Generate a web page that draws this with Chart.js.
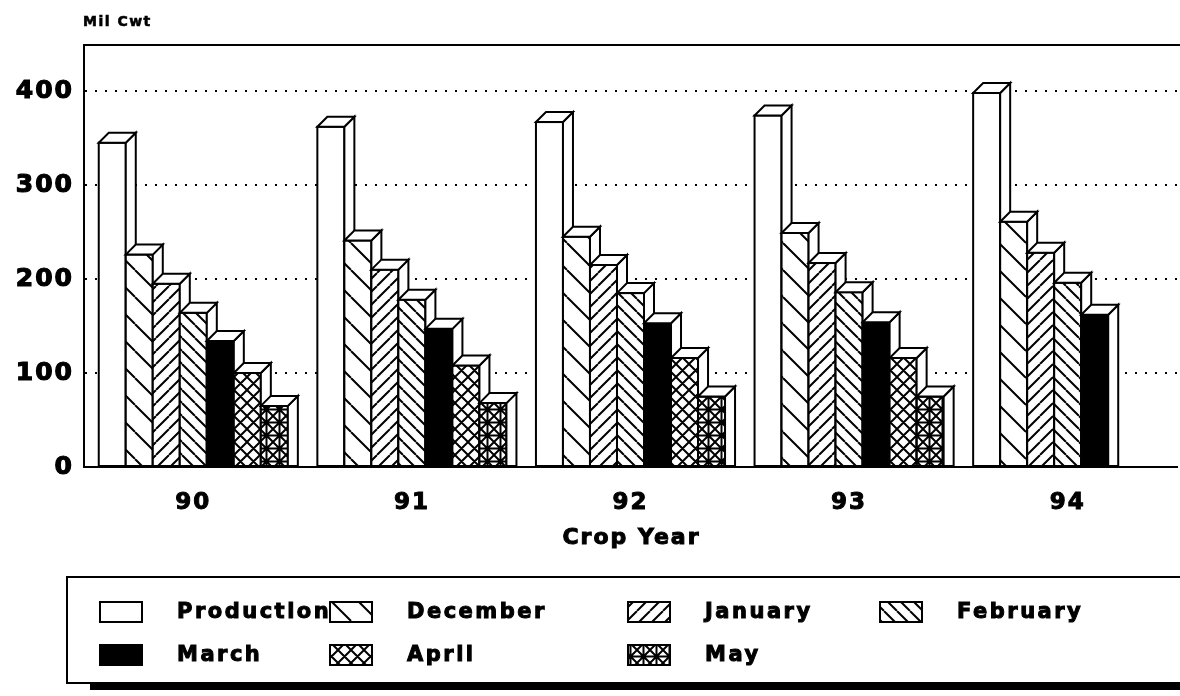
<!DOCTYPE html>
<html>
<head>
<meta charset="utf-8">
<script src="https://cdn.jsdelivr.net/npm/chart.js@4.4.1/dist/chart.umd.min.js"></script>
<style>
  html, body { margin: 0; padding: 0; background: #fff; }
  #wrap { width: 1180px; height: 696px; }
</style>
</head>
<body>
<div id="wrap"><canvas id="crop-chart"></canvas></div>
<script>
// data (million cwt)
const cropYears = ['90', '91', '92', '93', '94'];
const seriesNames = ['Production', 'December', 'January', 'February', 'March', 'April', 'May'];
const production = [345, 362, 367, 374, 398];
const december = [226, 241, 245, 249, 261];
const january = [195, 210, 215, 217, 228];
const february = [164, 178, 185, 186, 196];
const march = [134, 147, 153, 154, 162];
const april = [100, 108, 116, 116, null];
const may = [65, 68, 75, 75, null];
const yTicks = [0, 100, 200, 300, 400];
const yMax = 449;

const FONT = '"DejaVu Sans", "Liberation Sans", sans-serif';
const DEPTH = 10;

// hatch fills, drawn on small tiles
function makePattern(kind) {
    const s = kind === 'wide' ? 27 : 13;
    const c = document.createElement('canvas');
    c.width = s; c.height = s;
    const g = c.getContext('2d');
    g.fillStyle = kind === 'solid' ? '#000' : '#fff';
    g.fillRect(0, 0, s, s);
    if (kind === 'solid' || kind === 'plain') return g.createPattern(c, 'repeat');
    g.strokeStyle = '#000';
    g.lineWidth = 2;
    const back = () => { for (let k = -1; k <= 1; k++) { g.moveTo(k * s, 0); g.lineTo(k * s + s, s); } };
    const fwd = () => { for (let k = -1; k <= 1; k++) { g.moveTo(k * s, s); g.lineTo(k * s + s, 0); } };
    g.beginPath();
    if (kind === 'wide' || kind === 'back') back();
    if (kind === 'fwd') fwd();
    if (kind === 'cross' || kind === 'grid') { back(); fwd(); }
    if (kind === 'grid') {
        g.moveTo(s / 2, 0); g.lineTo(s / 2, s);
        g.moveTo(0, s / 2); g.lineTo(s, s / 2);
    }
    g.stroke();
    return g.createPattern(c, 'repeat');
}

const fills = [
    makePattern('plain'),
    makePattern('wide'),
    makePattern('fwd'),
    makePattern('back'),
    makePattern('solid'),
    makePattern('cross'),
    makePattern('grid')
];
const seriesValues = [production, december, january, february, march, april, may];

function heavyText(ctx, text, x, y, stroke) {
    ctx.lineWidth = stroke;
    ctx.strokeText(text, x, y);
    ctx.fillText(text, x, y);
}

// 3D boxes, redrawn left to right so each bar covers its neighbour's side
const bar3d = {
    id: 'bar3d',
    beforeDraw(chart) {
        chart.ctx.letterSpacing = '2px';
    },
    afterDatasetsDraw(chart) {
        const ctx = chart.ctx;
        ctx.save();
        ctx.lineWidth = 2;
        ctx.strokeStyle = '#000';
        chart.data.datasets.forEach((ds, i) => {
            const meta = chart.getDatasetMeta(i);
            meta.data.forEach((bar, j) => {
                if (ds.data[j] == null) return;
                const { x, y, base, width } = bar.getProps(['x', 'y', 'base', 'width'], true);
                const l = x - width / 2, r = x + width / 2;
                ctx.fillStyle = ds.backgroundColor;
                ctx.fillRect(l, y, width, base - y);
                ctx.strokeRect(l, y, width, base - y);
                ctx.fillStyle = '#fff';
                ctx.beginPath();
                ctx.moveTo(r, y); ctx.lineTo(r + DEPTH, y - DEPTH);
                ctx.lineTo(r + DEPTH, base); ctx.lineTo(r, base);
                ctx.closePath();
                ctx.fill(); ctx.stroke();
                ctx.beginPath();
                ctx.moveTo(l, y); ctx.lineTo(l + DEPTH, y - DEPTH);
                ctx.lineTo(r + DEPTH, y - DEPTH); ctx.lineTo(r, y);
                ctx.closePath();
                ctx.fill(); ctx.stroke();
            });
        });
        ctx.restore();
    },
    afterDraw(chart) {
        const ctx = chart.ctx;
        const area = chart.chartArea;
        ctx.save();
        ctx.setLineDash([]);
        // frame: top and left edges, solid
        ctx.strokeStyle = '#000';
        ctx.lineWidth = 2;
        ctx.beginPath();
        ctx.moveTo(area.left, area.bottom);
        ctx.lineTo(area.left, area.top);
        ctx.lineTo(chart.width, area.top);
        ctx.stroke();

        ctx.fillStyle = '#000';
        ctx.strokeStyle = '#000';
        ctx.textBaseline = 'middle';

        // unit label
        ctx.font = 'bold 14px ' + FONT;
        ctx.letterSpacing = '1.5px';
        ctx.textAlign = 'left';
        heavyText(ctx, 'Mil Cwt', 83, 22, 0.6);

        // axis title
        ctx.font = 'bold 22px ' + FONT;
        ctx.letterSpacing = '2px';
        ctx.textAlign = 'center';
        heavyText(ctx, chart.options.scales.x.title.text, (area.left + area.right) / 2 + 1, 538, 1);

        // legend box with drop shadow
        ctx.lineWidth = 2;
        ctx.strokeRect(67, 577, 1130, 106);
        ctx.fillRect(90, 683, 1100, 7);

        const cols = [100, 330, 628, 880];
        const rows = [612, 655];
        ctx.font = 'bold 21px ' + FONT;
        ctx.letterSpacing = '2.5px';
        ctx.textAlign = 'left';
        chart.data.datasets.forEach((ds, i) => {
            const bx = cols[i % 4];
            const by = rows[Math.floor(i / 4)];
            ctx.fillStyle = ds.backgroundColor;
            ctx.lineWidth = 2;
            ctx.fillRect(bx, by - 10, 42, 20);
            ctx.strokeRect(bx, by - 10, 42, 20);
            ctx.fillStyle = '#000';
            heavyText(ctx, ds.label, bx + 77, by + 1, 1);
        });
        ctx.restore();
    }
};

const ctx = document.getElementById('crop-chart').getContext('2d');
const cropChart = new Chart(ctx, {
    type: 'bar',
    data: {
        labels: cropYears,
        datasets: seriesNames.map((name, i) => ({
            label: name,
            data: seriesValues[i],
            backgroundColor: fills[i],
            borderColor: '#000',
            borderWidth: 0,
            barPercentage: 1,
            categoryPercentage: 0.865
        }))
    },
    options: {
        responsive: true,
        maintainAspectRatio: false,
        animation: false,
        events: [],
        layout: { padding: { top: 45, left: 0, right: 3, bottom: 139 } },
        plugins: {
            legend: { display: false },
            tooltip: { enabled: false }
        },
        scales: {
            x: {
                grid: { display: false },
                border: { display: true, color: '#000', width: 2 },
                ticks: {
                    color: '#000',
                    font: { family: FONT, size: 23, weight: 'bold' },
                    textStrokeColor: '#000',
                    textStrokeWidth: 1,
                    padding: 14
                },
                title: { display: false, text: 'Crop Year' },
                afterFit: scale => { scale.height = 90; }
            },
            y: {
                min: 0,
                max: yMax,
                border: { display: true, color: '#000', width: 2, dash: [2, 8] },
                grid: {
                    drawTicks: false,
                    lineWidth: 2,
                    color: c => (c.tick && c.tick.value === 0 ? 'rgba(0,0,0,0)' : '#000')
                },
                ticks: {
                    color: '#000',
                    font: { family: FONT, size: 25, weight: 'bold' },
                    textStrokeColor: '#000',
                    textStrokeWidth: 1.2,
                    padding: 10
                },
                afterBuildTicks: scale => {
                    scale.ticks = yTicks.map(v => ({ value: v }));
                },
                afterFit: scale => { scale.width = 84; }
            }
        }
    },
    plugins: [bar3d]
});
</script>
</body>
</html>
